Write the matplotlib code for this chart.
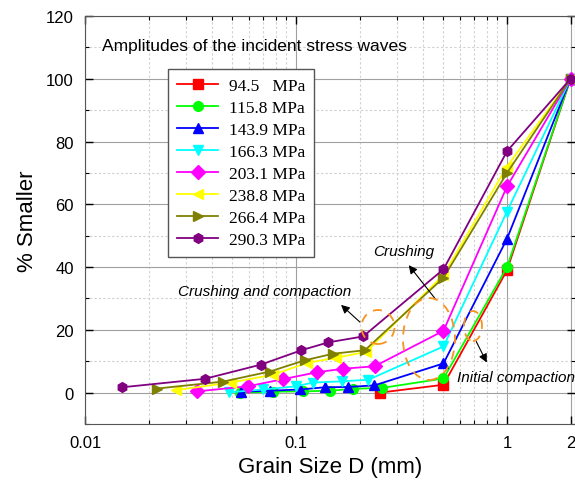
import matplotlib
matplotlib.use("Agg")
import matplotlib.pyplot as plt
from matplotlib.patches import Ellipse, FancyArrowPatch
from matplotlib.ticker import FixedLocator, LogLocator, NullFormatter, MultipleLocator

# data
labels = ["94.5   MPa", "115.8 MPa", "143.9 MPa", "166.3 MPa",
          "203.1 MPa", "238.8 MPa", "266.4 MPa", "290.3 MPa"]
colors = ["red", "#00ff00", "blue", "cyan", "magenta", "yellow", "olive", "purple"]
markers = ["s", "o", "^", "v", "D", "<", ">", "h"]

x_945 = [0.25, 0.5, 1, 2]
y_945 = [0.0, 2.5, 39, 100]
x_1158 = [0.054, 0.078, 0.108, 0.145, 0.186, 0.256, 0.5, 1, 2]
y_1158 = [0.0, 0.3, 0.4, 0.6, 1.2, 1.5, 4.5, 40, 100]
x_1439 = [0.055, 0.075, 0.105, 0.137, 0.176, 0.235, 0.5, 1, 2]
y_1439 = [0.3, 0.6, 1.0, 1.7, 1.8, 2.3, 9.3, 49, 100]
x_1663 = [0.048, 0.07, 0.1, 0.12, 0.165, 0.22, 0.5, 1, 2]
y_1663 = [0.1, 1.0, 2.0, 3.2, 3.6, 4.1, 14.7, 57.7, 100]
x_2031 = [0.034, 0.059, 0.087, 0.126, 0.167, 0.236, 0.5, 1, 2]
y_2031 = [0.4, 2.0, 4.3, 6.5, 7.6, 8.4, 19.7, 65.7, 100]
x_2388 = [0.027, 0.049, 0.078, 0.113, 0.155, 0.215, 0.5, 1, 2]
y_2388 = [0.8, 3.2, 5.7, 9.5, 11.1, 13.0, 37.5, 72, 100]
x_2664 = [0.022, 0.045, 0.075, 0.11, 0.15, 0.212, 0.5, 1, 2]
y_2664 = [1.3, 3.5, 6.7, 10.3, 12.4, 13.5, 36.6, 70, 100]
x_2903 = [0.015, 0.037, 0.068, 0.106, 0.142, 0.208, 0.5, 1, 2]
y_2903 = [1.7, 4.4, 8.9, 13.5, 16.0, 17.9, 39.3, 76.9, 100]

xs = [x_945, x_1158, x_1439, x_1663, x_2031, x_2388, x_2664, x_2903]
ys = [y_945, y_1158, y_1439, y_1663, y_2031, y_2388, y_2664, y_2903]

W, H = 575, 485
fig = plt.figure(figsize=(W / 100, H / 100), dpi=100)
ax = fig.add_axes([85 / W, (H - 425) / H, 490 / W, 408 / H])

for x, y, c, m, lab in zip(xs, ys, colors, markers, labels):
    ax.plot(x, y, color=c, marker=m, ms=7, lw=1.3, label=lab, zorder=3)

ax.set_xscale("log")
ax.set_xlim(0.01, 2.1)
ax.set_ylim(-10, 120)

ax.xaxis.set_major_locator(FixedLocator([0.01, 0.1, 1, 2]))
ax.set_xticklabels(["0.01", "0.1", "1", "2"])
ax.xaxis.set_minor_locator(LogLocator(base=10, subs=range(2, 10)))
ax.xaxis.set_minor_formatter(NullFormatter())
ax.yaxis.set_major_locator(MultipleLocator(20))
ax.yaxis.set_minor_locator(MultipleLocator(10))

ax.tick_params(which="both", direction="in", top=True, right=True,
               labelsize=12, pad=8)
ax.tick_params(which="major", length=6, width=1)
ax.tick_params(which="minor", length=3, width=0.8)
for lab in ax.get_xticklabels() + ax.get_yticklabels():
    lab.set_family("Liberation Sans")

ax.grid(which="major", color="#a0a0a0", lw=0.8, ls="-")
ax.grid(which="minor", color="#d0d0d0", lw=0.8, ls=(0, (2, 2)))
ax.set_axisbelow(True)
for s in ax.spines.values():
    s.set_color("#555555")

ax.set_xlabel("Grain Size D (mm)", fontsize=16, family="Liberation Sans", labelpad=4)
ax.set_ylabel("% Smaller", fontsize=16, family="Liberation Sans", labelpad=6)

leg = ax.legend(loc="upper left", bbox_to_anchor=(168 / W, 1 - 70 / H),
                bbox_transform=fig.transFigure, borderaxespad=0,
                prop={"family": "Liberation Serif", "size": 12.5},
                handlelength=2.4, handletextpad=0.6, labelspacing=0.34,
                borderpad=0.5, fancybox=False, edgecolor="#555555", framealpha=1)
leg.get_frame().set_linewidth(1)

# text annotations (figure pixel positions)
def px(x, y):
    return (x / W, 1 - y / H)

fig.text(*px(102, 47), "Amplitudes of the incident stress waves", fontsize=12.5,
         family="Liberation Sans", va="center", ha="left")
fig.text(*px(373, 252), "Crushing", fontsize=11, style="italic",
         family="Liberation Sans", va="center", ha="left")
fig.text(*px(178, 292), "Crushing and compaction", fontsize=11, style="italic",
         family="Liberation Sans", va="center", ha="left")
fig.text(*px(457, 378), "Initial compaction", fontsize=11, style="italic",
         family="Liberation Sans", va="center", ha="left")

arrows = [((437, 302), (407, 264)), ((362, 325), (339, 304)), ((475, 340), (488, 366))]
for (x0, y0), (x1, y1) in arrows:
    fig.add_artist(FancyArrowPatch(
        px(x0, y0), px(x1, y1), transform=fig.transFigure,
        arrowstyle="-|>,head_length=5,head_width=2.5", color="black", lw=0.8))

ellipses = [((378, 328), 33, 34), ((429, 340), 52, 82), ((473, 327), 18, 30)]
for (cx, cy), w, h in ellipses:
    fig.add_artist(Ellipse(px(cx, cy), w / W, h / H, transform=fig.transFigure,
                           fill=False, edgecolor="#f7931e", lw=1.3, ls=(0, (5, 4)), zorder=5))

plt.savefig("out.png", dpi=100)
